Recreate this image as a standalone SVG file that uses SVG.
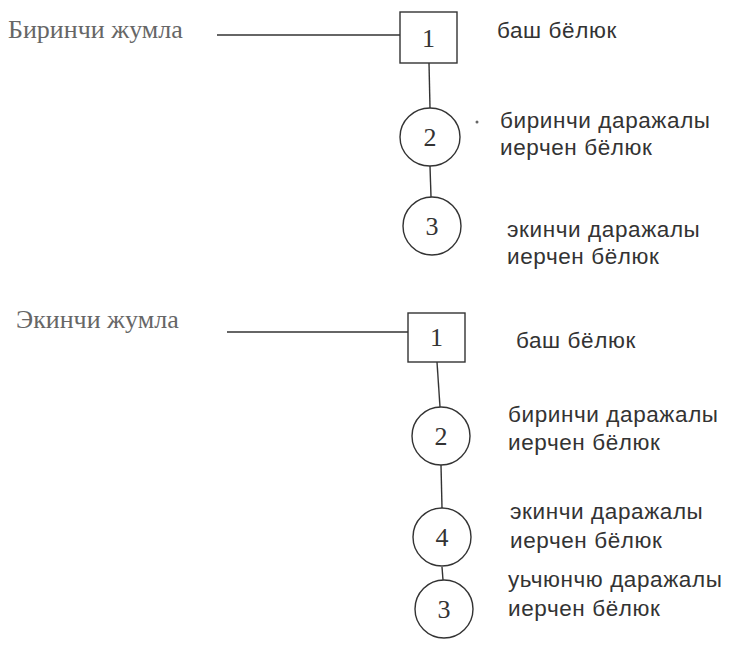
<svg xmlns="http://www.w3.org/2000/svg" width="735" height="649" viewBox="0 0 735 649">
<style>
.ln{stroke:#333;stroke-width:1.4;fill:none}
.sh{stroke:#333;stroke-width:1.4;fill:#fff}
.num{font-family:"Liberation Serif",serif;font-size:26px;fill:#333;text-anchor:middle}
.lbl{font-family:"Liberation Serif",serif;font-size:26px;fill:#666}
.t{font-family:"Liberation Sans",sans-serif;font-size:22.5px;letter-spacing:0.6px;fill:#333}
</style>
<rect width="735" height="649" fill="#fff"/>
<g id="connectors">
<line class="ln" x1="217" y1="35" x2="400" y2="35"/>
<line class="ln" x1="429" y1="63" x2="430" y2="108"/>
<line class="ln" x1="430" y1="166" x2="431" y2="197"/>
<line class="ln" x1="227" y1="332" x2="408" y2="332"/>
<line class="ln" x1="437" y1="362" x2="440" y2="407"/>
<line class="ln" x1="441" y1="465" x2="442" y2="508"/>
<line class="ln" x1="442" y1="567" x2="443" y2="580"/>
</g>
<g id="label1"><text class="lbl" x="8" y="38">Биринчи жумла</text></g>
<g id="n1a"><rect class="sh" x="400" y="12" width="57" height="51"/><text class="num" x="428.5" y="47">1</text></g>
<g id="n2a"><ellipse class="sh" cx="430" cy="137" rx="30" ry="29"/><text class="num" x="430" y="146">2</text></g>
<g id="n3a"><ellipse class="sh" cx="432" cy="226" rx="29" ry="29"/><text class="num" x="432" y="235">3</text></g>
<circle cx="477" cy="122" r="1.5" fill="#666"/>
<g id="t1a"><text class="t" x="497" y="38">баш бёлюк</text></g>
<g id="t2a"><text class="t" x="500" y="128">биринчи даражалы</text><text class="t" x="500" y="155">иерчен бёлюк</text></g>
<g id="t3a"><text class="t" x="507" y="237">экинчи даражалы</text><text class="t" x="507" y="264">иерчен бёлюк</text></g>
<g id="label2"><text class="lbl" x="16" y="328">Экинчи жумла</text></g>
<g id="n1b"><rect class="sh" x="408" y="313" width="57" height="49"/><text class="num" x="436.5" y="346">1</text></g>
<g id="n2b"><ellipse class="sh" cx="441" cy="436" rx="29" ry="29"/><text class="num" x="441" y="445">2</text></g>
<g id="n4b"><ellipse class="sh" cx="442" cy="537" rx="29" ry="29"/><text class="num" x="442" y="546">4</text></g>
<g id="n3b"><ellipse class="sh" cx="444" cy="609" rx="29" ry="29"/><text class="num" x="444" y="618">3</text></g>
<g id="t1b"><text class="t" x="516" y="348">баш бёлюк</text></g>
<g id="t2b"><text class="t" x="508" y="422">биринчи даражалы</text><text class="t" x="508" y="450">иерчен бёлюк</text></g>
<g id="t4b"><text class="t" x="510" y="519">экинчи даражалы</text><text class="t" x="510" y="548">иерчен бёлюк</text></g>
<g id="t3b"><text class="t" x="508" y="587">уьчюнчю даражалы</text><text class="t" x="508" y="616">иерчен бёлюк</text></g>
</svg>
